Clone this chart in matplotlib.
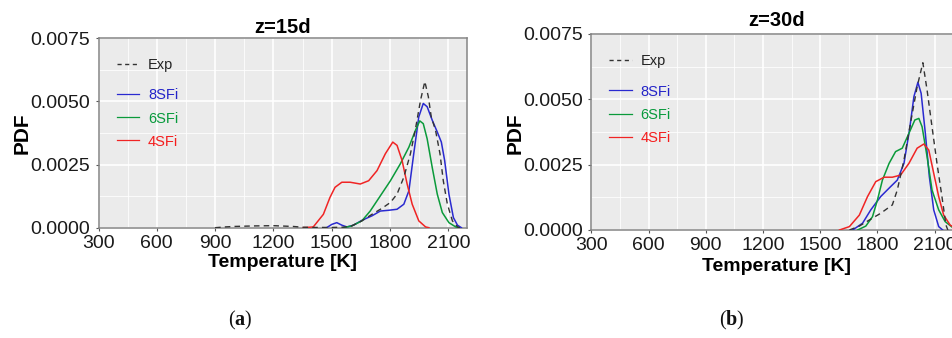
import matplotlib
matplotlib.use('Agg')
import matplotlib.pyplot as plt
from matplotlib.ticker import MultipleLocator, FixedLocator
from matplotlib.lines import Line2D

plt.rcParams['font.family'] = ['Liberation Sans', 'DejaVu Sans']
plt.rcParams['mathtext.fontset'] = 'custom'
plt.rcParams['mathtext.bf'] = 'Liberation Serif:bold'
plt.rcParams['mathtext.rm'] = 'Liberation Serif'

# ---------------- data ----------------
x_ticks = [300, 600, 900, 1200, 1500, 1800, 2100]
y_ticks = [0.0, 0.0025, 0.0050, 0.0075]
y_tick_labels = ['0.0000', '0.0025', '0.0050', '0.0075']
series_names = ['8SFi', '6SFi', '4SFi']
panel_titles = ['z=15d', 'z=30d']
panel_tags = ['a', 'b']

# panel (a) z=15d
exp_a_T = [900, 950, 1000, 1100, 1200, 1300, 1350, 1400, 1500, 1560, 1600, 1655, 1707, 1759,
           1802, 1836, 1871, 1905, 1931, 1957, 1979, 1997, 2012, 2034, 2057, 2074, 2095, 2121,
           2147, 2160]
exp_a_pdf = [0.0, 0.00003, 0.00005, 0.00007, 0.00008, 0.00005, 0.00002, 0.00001, 0.00001,
             0.00002, 0.00006, 0.00027, 0.00053, 0.00077, 0.0010, 0.00133, 0.0020, 0.00293,
             0.00392, 0.00505, 0.00579, 0.00519, 0.00439, 0.00386, 0.00293, 0.00186, 0.00093,
             0.00027, 0.00003, 0.0]

b8_a_T = [1474, 1500, 1526, 1552, 1578, 1612, 1655, 1707, 1750, 1793, 1836, 1871, 1897, 1922,
          1948, 1971, 1991, 2017, 2043, 2064, 2081, 2103, 2126, 2147, 2167]
b8_a_pdf = [0.0, 0.00013, 0.0002, 0.0001, 0.00003, 0.0001, 0.00029, 0.00047, 0.00066, 0.00069,
            0.00073, 0.00093, 0.00146, 0.00293, 0.00439, 0.00492, 0.00479, 0.00426, 0.00379,
            0.00339, 0.00266, 0.00133, 0.0004, 0.0001, 0.0]

g6_a_T = [1560, 1603, 1655, 1698, 1750, 1802, 1853, 1897, 1931, 1953, 1971, 1991, 2017, 2043,
          2069, 2103, 2138, 2155]
g6_a_pdf = [0.0, 0.00007, 0.00027, 0.00066, 0.00126, 0.00186, 0.00253, 0.00319, 0.00386,
            0.00423, 0.00412, 0.00352, 0.00239, 0.00133, 0.0006, 0.0002, 0.00003, 0.0]

r4_a_T = [1354, 1405, 1457, 1491, 1517, 1552, 1595, 1647, 1690, 1733, 1776, 1814, 1836, 1862,
          1888, 1914, 1948, 1983, 2000]
r4_a_pdf = [0.0, 0.00003, 0.00053, 0.0012, 0.0016, 0.0018, 0.0018, 0.00173, 0.00186, 0.00226,
            0.00293, 0.00339, 0.00326, 0.00266, 0.00173, 0.00093, 0.00027, 0.00003, 0.0]

# panel (b) z=30d
exp_b_T = [1653, 1705, 1757, 1817, 1878, 1904, 1939, 1973, 2008, 2038, 2060, 2086, 2112, 2138,
           2159, 2169]
exp_b_pdf = [0.0, 0.00015, 0.00038, 0.00064, 0.00096, 0.00153, 0.00268, 0.00408, 0.00548,
             0.0064, 0.00536, 0.00395, 0.00255, 0.00128, 0.00019, 0.0]

b8_b_T = [1670, 1722, 1765, 1817, 1869, 1904, 1939, 1968, 1991, 2012, 2029, 2051, 2072, 2095,
          2121, 2142]
b8_b_pdf = [0.0, 0.00026, 0.00077, 0.00128, 0.00166, 0.00191, 0.00255, 0.00383, 0.0051,
            0.00565, 0.00523, 0.0037, 0.00204, 0.00077, 0.00013, 0.0]

g6_b_T = [1696, 1739, 1774, 1800, 1826, 1861, 1895, 1930, 1965, 1996, 2017, 2034, 2060, 2086,
          2121, 2155, 2200]
g6_b_pdf = [0.0, 0.00015, 0.00051, 0.00115, 0.00191, 0.00255, 0.0030, 0.00313, 0.0037,
            0.00421, 0.00427, 0.00395, 0.00281, 0.00153, 0.00077, 0.00032, 0.00006]

r4_b_T = [1601, 1653, 1705, 1748, 1791, 1835, 1878, 1921, 1965, 2008, 2043, 2069, 2095, 2121,
          2147, 2181, 2200]
r4_b_pdf = [0.0, 0.00013, 0.00057, 0.00128, 0.00185, 0.00202, 0.00202, 0.0021, 0.00255,
            0.00313, 0.00329, 0.00306, 0.00217, 0.00128, 0.00057, 0.00019, 0.0001]

# ---------------- style ----------------
col_exp = '#333333'
col_b = '#2a2ad0'
col_g = '#0a9a3a'
col_r = '#f02424'
leg_text_cols = ['#2424c8', '#079a3c', '#f51d1d']

fig = plt.figure(figsize=(9.52, 3.38), dpi=100)
W, H = 952.0, 338.0
ax_a = fig.add_axes([98.5 / W, (H - 227.7) / H, 368.5 / W, 189.4 / H])
ax_b = fig.add_axes([591.3 / W, (H - 230.0) / H, 361.7 / W, 196.0 / H])

panels = [
    (ax_a, (exp_a_T, exp_a_pdf), [(b8_a_T, b8_a_pdf), (g6_a_T, g6_a_pdf), (r4_a_T, r4_a_pdf)]),
    (ax_b, (exp_b_T, exp_b_pdf), [(b8_b_T, b8_b_pdf), (g6_b_T, g6_b_pdf), (r4_b_T, r4_b_pdf)]),
]
line_cols = [col_b, col_g, col_r]

title_x = [0.5, 0.513]
title_pad = [4, 6]
xlabel_y = [-0.186, -0.187]
ylabel_x = [-0.208, -0.211]
ylabel_y = [0.5, 0.493]
leg_y_exp = [0.859, 0.864]
leg_y_col = [0.735, 0.742]
tag_x = [240, 732]

for i, (ax, exp, sims) in enumerate(panels):
    ax.set_facecolor('#EBEBEB')
    ax.set_xlim(300, 2196)
    ax.set_ylim(0, 0.0075)
    ax.xaxis.set_major_locator(FixedLocator(x_ticks))
    ax.yaxis.set_major_locator(FixedLocator(y_ticks))
    ax.set_yticklabels(y_tick_labels)
    ax.xaxis.set_minor_locator(MultipleLocator(150))
    ax.yaxis.set_minor_locator(MultipleLocator(0.00125))
    ax.set_axisbelow(True)
    ax.grid(which='major', color='white', lw=1.2)
    ax.grid(which='minor', color='white', lw=0.55)
    for s in ax.spines.values():
        s.set_color('#858585')
        s.set_linewidth(1.1)
    ax.tick_params(which='minor', length=0)
    ax.tick_params(axis='both', which='major', length=2.5, width=0.8, color='#555555',
                   labelsize=14, labelcolor='#1a1a1a')
    ax.tick_params(axis='x', pad=2.5)
    ax.tick_params(axis='y', pad=3.5)

    h_exp, = ax.plot(exp[0], exp[1], color=col_exp, lw=1.0, ls=(0, (4, 3)), zorder=5)
    for (tx, py), c in zip(sims, line_cols):
        ax.plot(tx, py, color=c, lw=1.1, zorder=4, solid_joinstyle='round')

    ax.set_title(panel_titles[i], fontsize=14.5, fontweight='bold', x=title_x[i], pad=title_pad[i])
    ax.set_xlabel('Temperature [K]', fontsize=14, fontweight='bold', va='center')
    ax.xaxis.set_label_coords(title_x[i], xlabel_y[i])
    ax.set_ylabel('PDF', fontsize=15, fontweight='bold', va='center', ha='center')
    ax.yaxis.set_label_coords(ylabel_x[i], ylabel_y[i])

    leg_exp_handle = Line2D([], [], color=col_exp, lw=1.0, ls=(0, (3, 2.5)))
    leg1 = ax.legend([leg_exp_handle], ['Exp'], loc='center left', bbox_to_anchor=(0.049, leg_y_exp[i]),
                     frameon=False, fontsize=10.5, handlelength=1.55, handletextpad=0.6,
                     borderpad=0, borderaxespad=0, labelcolor=['#222222'])
    leg_handles = [Line2D([], [], color=c, lw=0.9) for c in line_cols]
    ax.legend(leg_handles, series_names, loc='upper left', bbox_to_anchor=(0.049, leg_y_col[i]),
              frameon=False, fontsize=10.5, handlelength=1.55, handletextpad=0.6,
              borderpad=0, borderaxespad=0, labelspacing=0.62, labelcolor=leg_text_cols)
    ax.add_artist(leg1)

    fig.text(tag_x[i] / W, 1 - 320 / H, '(' + r'$\mathbf{' + panel_tags[i] + '}$' + ')',
             family='Liberation Serif', fontsize=14.5, ha='center', va='center', color='#111111')

fig.savefig('out.png', dpi=100)
